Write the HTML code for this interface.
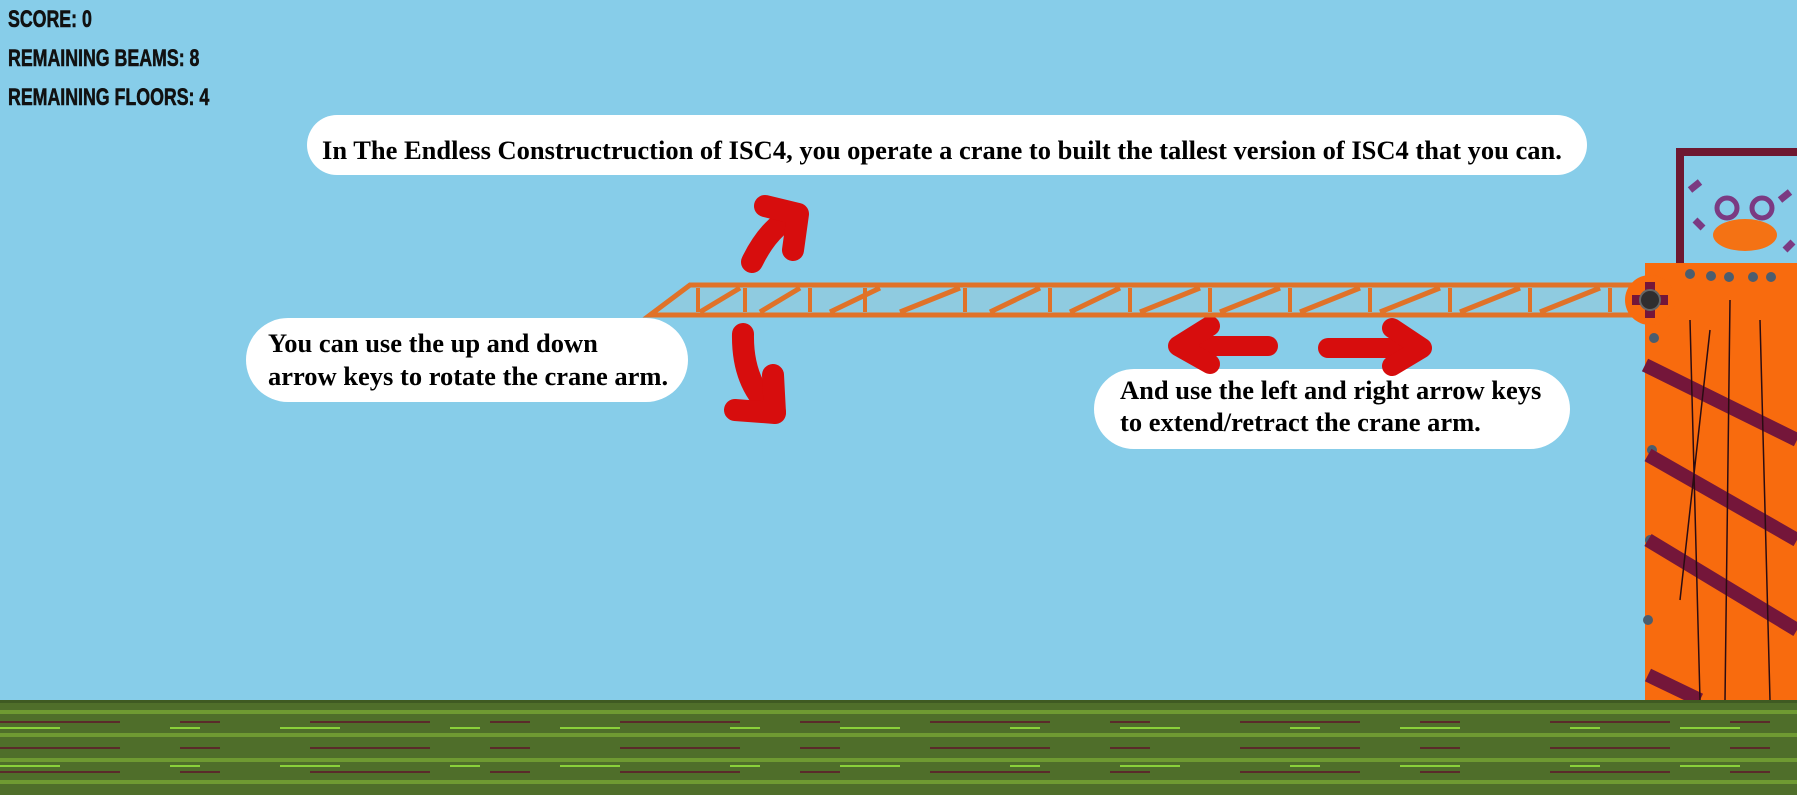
<!DOCTYPE html>
<html><head><meta charset="utf-8">
<style>
html,body{margin:0;padding:0}
body{width:1797px;height:795px;overflow:hidden;background:#87cde9;position:relative;font-family:"Liberation Serif",serif}
.hud{position:absolute;left:8px;font-family:"Liberation Sans Narrow","Liberation Sans",sans-serif;font-weight:bold;font-size:24px;color:#111;transform:scaleX(0.74);transform-origin:left top;-webkit-text-stroke:0.6px #111}
.bub{position:absolute;background:#fff;border-radius:40px;font-weight:bold;font-size:26.5px;color:#000;box-sizing:border-box;white-space:nowrap}
</style></head>
<body>
<div class="hud" style="top:6px">SCORE: 0</div>
<div class="hud" style="top:45px">REMAINING BEAMS: 8</div>
<div class="hud" style="top:84px">REMAINING FLOORS: 4</div>

<div class="bub" style="left:307px;top:115px;width:1280px;height:60px;padding:20px 0 0 15px;border-radius:30px">In The Endless Constructruction of ISC4, you operate a crane to built the tallest version of ISC4 that you can.</div>
<div class="bub" style="left:246px;top:318px;width:442px;height:84px;padding:9px 0 0 22px;line-height:33px;border-radius:42px">You can use the up and down<br>arrow keys to rotate the crane arm.</div>
<div class="bub" style="left:1094px;top:369px;width:476px;height:80px;padding:5px 0 0 26px;line-height:32px;border-radius:40px">And use the left and right arrow keys<br>to extend/retract the crane arm.</div>

<svg width="1797" height="795" style="position:absolute;left:0;top:0">
<g fill="none" stroke="#d70d0d" stroke-width="22" stroke-linecap="round" stroke-linejoin="round">
<path d="M752,262 Q770,225 797,214"/><path d="M765,206 L798,214 L793,250"/></g>
<g fill="none" stroke="#d70d0d" stroke-width="22" stroke-linecap="round" stroke-linejoin="round">
<path d="M743,334 Q742,385 775,412"/><path d="M735,410 L775,413 L773,375"/></g>
<g fill="none" stroke="#d70d0d" stroke-width="20" stroke-linecap="round" stroke-linejoin="round">
<path d="M1268,346 L1180,346"/><path d="M1210,326 L1178,346 L1210,364"/></g>
<g fill="none" stroke="#d70d0d" stroke-width="20" stroke-linecap="round" stroke-linejoin="round">
<path d="M1328,348 L1420,348"/><path d="M1392,328 L1422,348 L1392,366"/></g>

<g>
<polygon points="650,315 690,285 1645,285 1645,315" fill="#8fcbe0" stroke="#e07228" stroke-width="5"/>
<path d="M700,312 L740,288 M760,312 L800,288 M830,312 L880,288 M900,312 L960,288 M990,312 L1040,288 M1070,312 L1120,288 M1140,312 L1200,288 M1220,312 L1280,288 M1300,312 L1360,288 M1380,312 L1440,288 M1460,312 L1520,288 M1540,312 L1600,288" stroke="#e07228" stroke-width="5"/>
<path d="M698,288 V312 M745,288 V312 M810,288 V312 M865,288 V312 M965,288 V312 M1050,288 V312 M1130,288 V312 M1210,288 V312 M1290,288 V312 M1370,288 V312 M1450,288 V312 M1530,288 V312 M1610,288 V312" stroke="#e07228" stroke-width="4"/>
</g>

<g>
<rect x="1677" y="150" width="120" height="120" fill="#87cde9"/>
<path d="M1680,270 V152 H1797" fill="none" stroke="#6e1830" stroke-width="8"/>
<ellipse cx="1745" cy="235" rx="32" ry="16" fill="#f47214"/>
<circle cx="1727" cy="208" r="10" fill="none" stroke="#7b3a82" stroke-width="5"/>
<circle cx="1762" cy="208" r="10" fill="none" stroke="#7b3a82" stroke-width="5"/>
<path d="M1690,190 l10,-8 M1695,220 l8,8 M1780,200 l10,-8 M1785,250 l8,-8" stroke="#7b3a82" stroke-width="7"/>
<rect x="1645" y="263" width="152" height="437" fill="#f86b0e"/>
<g fill="#4b5d6e"><circle cx="1690" cy="274" r="5"/><circle cx="1711" cy="276" r="5"/><circle cx="1729" cy="277" r="5"/><circle cx="1753" cy="277" r="5"/><circle cx="1771" cy="277" r="5"/><circle cx="1654" cy="338" r="5"/><circle cx="1652" cy="450" r="5"/><circle cx="1650" cy="540" r="5"/><circle cx="1648" cy="620" r="5"/></g>
<path d="M1645,365 L1797,440 M1648,455 L1797,540 M1648,540 L1797,630 M1648,675 L1700,700" stroke="#74163a" stroke-width="14"/>
<path d="M1690,320 L1700,700 M1730,300 L1725,700 M1760,320 L1770,700 M1710,330 L1680,600" stroke="#2a0c12" stroke-width="1.5" fill="none"/>
<circle cx="1650" cy="300" r="25" fill="#f86b0e"/>
<path d="M1650,282 V318 M1632,300 H1668" stroke="#74163a" stroke-width="10"/>
<circle cx="1650" cy="300" r="10" fill="#2f2e2f" stroke="#666" stroke-width="2"/>
</g>

<g>
<rect x="0" y="700" width="1797" height="95" fill="#4f6e2a"/>
<rect x="0" y="700" width="1797" height="3" fill="#3f5a22"/>
<path d="M0,712 H1797 M0,735 H1797 M0,760 H1797 M0,782 H1797" stroke="#6f9a32" stroke-width="4"/>
<path d="M0,722 H1797 M0,748 H1797 M0,772 H1797" stroke="#5a2a2a" stroke-width="2" stroke-dasharray="120 60 40 90"/>
<path d="M0,728 H1797 M0,766 H1797" stroke="#8ad13a" stroke-width="2" stroke-dasharray="60 110 30 80"/>
</g>
</svg>
</body></html>
